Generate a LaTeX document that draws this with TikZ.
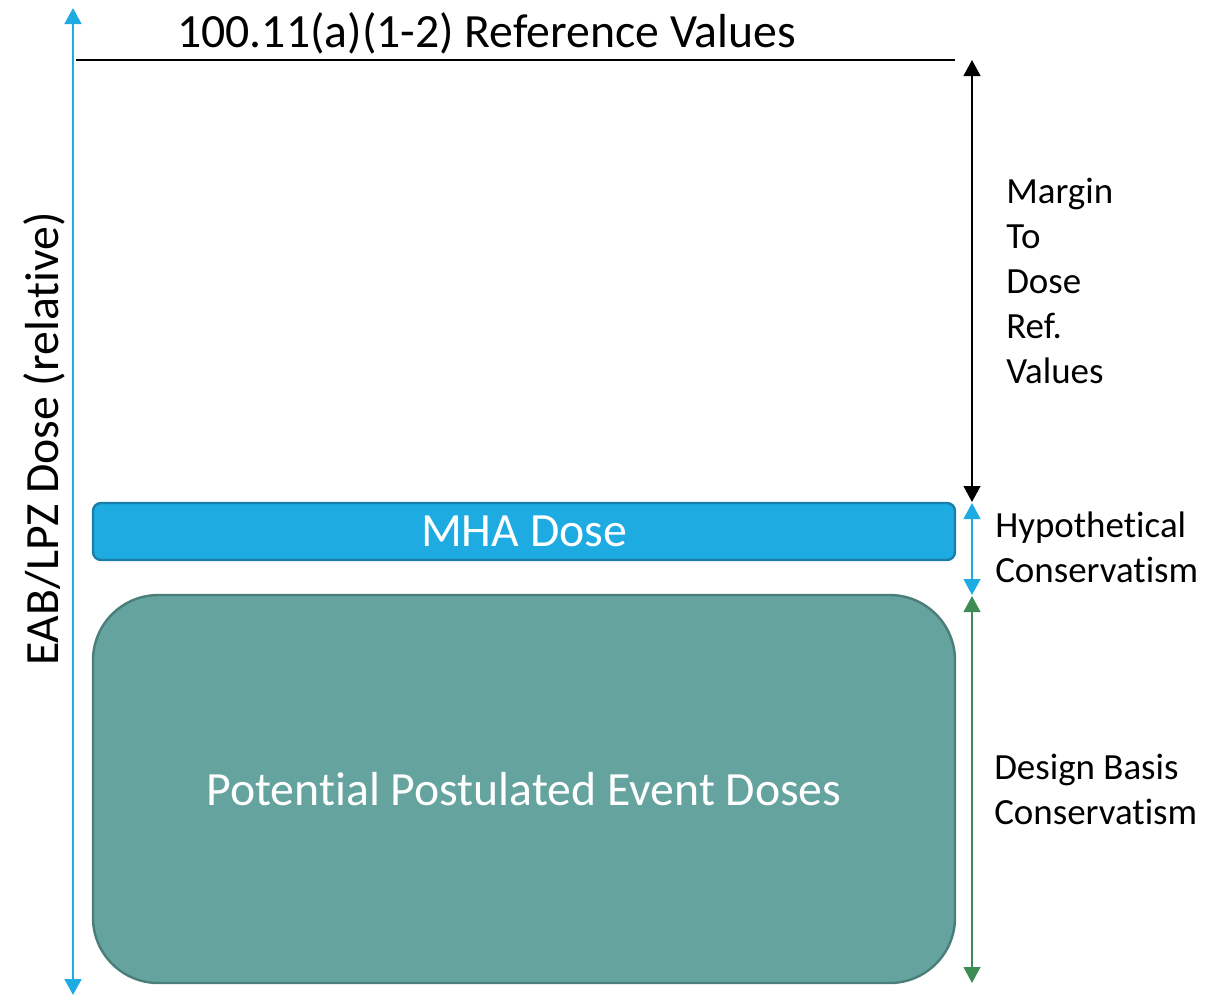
\documentclass[tikz,border=0pt]{standalone}
\usepackage{fontspec}
\setmainfont{Carlito}[RawFeature={-liga;-clig;-dlig;-calt}]
\usetikzlibrary{arrows.meta}

\definecolor{axisblue}{HTML}{1EABE3}
\definecolor{mhafill}{HTML}{1EABE2}
\definecolor{mhaline}{HTML}{1A7FA8}
\definecolor{pedfill}{HTML}{65A39E}
\definecolor{pedline}{HTML}{4B7E79}
\definecolor{dbgreen}{HTML}{3E8B55}

\tikzset{
  twotip/.style={{Triangle[width=12.5pt,length=12pt]}-{Triangle[width=12.5pt,length=12pt]}},
  bigtext/.style={font=\fontsize{35.8pt}{40pt}\selectfont, inner sep=0pt},
  sidetext/.style={font=\fontsize{27.7pt}{33.75pt}\selectfont, inner sep=0pt, align=left},
  mhabox/.style={draw=mhaline, fill=mhafill, line width=1.8pt, rounded corners=6pt,
    minimum width=646.5pt, minimum height=42.75pt, text=white, bigtext},
  pedbox/.style={draw=pedline, fill=pedfill, line width=1.8pt, rounded corners=49pt,
    minimum width=646.5pt, minimum height=291pt, text=white, bigtext},
}

\begin{document}
\begin{tikzpicture}[x=0.75pt, y=-0.75pt]
\useasboundingbox (0,0) rectangle (1209,997);

% vertical dose axis
\coordinate (axtop) at (73,8);
\coordinate (axbot) at (73,995);
\draw[twotip, axisblue, line width=2.1pt] (axtop) -- (axbot);
\node[bigtext, rotate=90, anchor=base] (axlabel) at (58,439) {EAB/LPZ Dose (relative)};

% reference value line and its label
\coordinate (refl) at (76,60);
\coordinate (refr) at (955,60);
\draw[line width=1.6pt] (refl) -- (refr);
\node[bigtext, anchor=base] (title) at (486.5,47) {100.11(a)(1-2) Reference Values};

% dose boxes
\node[mhabox] (mha) at (524,531.5) {MHA Dose};
\node[pedbox] (ped) at (524,789) {Potential Postulated Event Doses};

% margin brackets on the right
\coordinate (m0) at (972,60);
\coordinate (m1) at (972,502);
\coordinate (m2) at (972,503);
\coordinate (m3) at (972,595);
\coordinate (m4) at (972,596);
\coordinate (m5) at (972,983);
\draw[twotip, line width=1.8pt] (m0) -- (m1);
\draw[twotip, axisblue, line width=1.8pt] (m2) -- (m3);
\draw[twotip, dbgreen, line width=1.8pt] (m4) -- (m5);

% labels (anchored at the baseline of the last line)
\node[sidetext, anchor=base west] (margin) at (1006,383) {Margin\\To\\Dose\\Ref.\\Values};
\node[sidetext, anchor=base west] (hypo) at (995,582) {Hypothetical\\Conservatism};
\node[sidetext, anchor=base west] (dbc) at (994,824) {Design Basis\\Conservatism};
\end{tikzpicture}
\end{document}
